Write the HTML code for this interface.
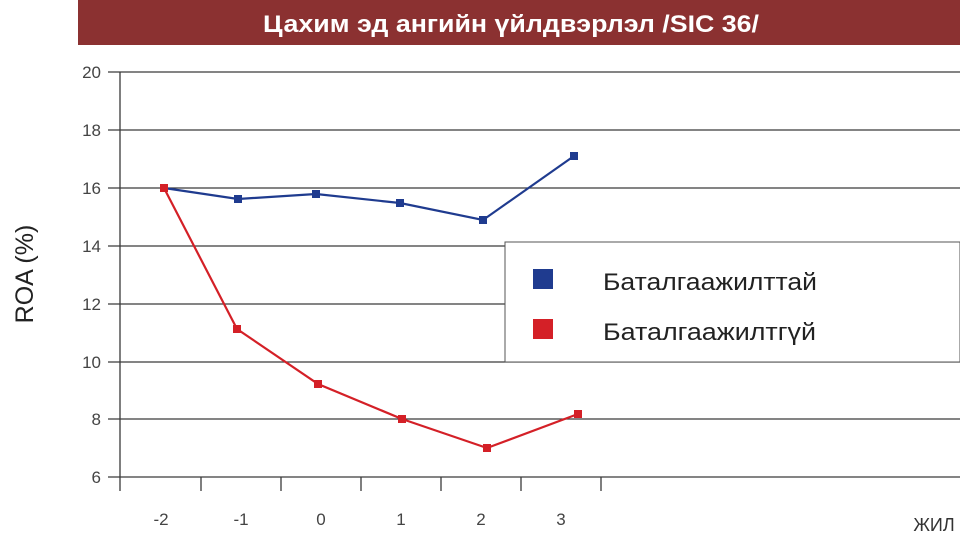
<!DOCTYPE html>
<html><head><meta charset="utf-8"><style>
body{margin:0;background:#fff;width:960px;height:533px;overflow:hidden;font-family:"Liberation Sans",sans-serif}
</style></head><body>
<svg width="960" height="533" xmlns="http://www.w3.org/2000/svg" font-family="Liberation Sans, sans-serif">
<rect x="78" y="0" width="882" height="45" fill="#8b3131"/>
<text x="511" y="32" text-anchor="middle" font-size="24" font-weight="bold" fill="#fff" textLength="496" lengthAdjust="spacingAndGlyphs">Цахим эд ангийн үйлдвэрлэл /SIC 36/</text>
<g stroke="#3a3a3a" stroke-width="1.3">
<line x1="108" y1="72" x2="960" y2="72"/>
<line x1="108" y1="130" x2="960" y2="130"/>
<line x1="108" y1="188" x2="960" y2="188"/>
<line x1="108" y1="246" x2="960" y2="246"/>
<line x1="108" y1="304" x2="960" y2="304"/>
<line x1="108" y1="362" x2="960" y2="362"/>
<line x1="108" y1="419" x2="960" y2="419"/>
<line x1="108" y1="477" x2="960" y2="477"/>
<line x1="120" y1="72" x2="120" y2="491"/>
<line x1="201" y1="477" x2="201" y2="491"/>
<line x1="281" y1="477" x2="281" y2="491"/>
<line x1="361" y1="477" x2="361" y2="491"/>
<line x1="441" y1="477" x2="441" y2="491"/>
<line x1="521" y1="477" x2="521" y2="491"/>
<line x1="601" y1="477" x2="601" y2="491"/>
</g>
<g font-size="17" fill="#444" text-anchor="end">
<text x="101" y="78">20</text><text x="101" y="136">18</text><text x="101" y="194">16</text><text x="101" y="252">14</text>
<text x="101" y="310">12</text><text x="101" y="368">10</text><text x="101" y="425">8</text><text x="101" y="483">6</text>
</g>
<g font-size="17" fill="#444" text-anchor="middle">
<text x="161" y="525">-2</text><text x="241" y="525">-1</text><text x="321" y="525">0</text><text x="401" y="525">1</text><text x="481" y="525">2</text><text x="561" y="525">3</text>
</g>
<text x="934" y="531" font-size="18" fill="#333" text-anchor="middle">ЖИЛ</text>
<text transform="translate(33,274) rotate(-90)" font-size="25" fill="#222" text-anchor="middle">ROA (%)</text>
<polyline fill="none" stroke="#d42027" stroke-width="2.2" points="164,188 237,329 318,384 402,419 487,448 578,414"/>
<polyline fill="none" stroke="#1f3b8f" stroke-width="2.2" points="164,188 238,199 316,194 400,203 483,220 574,156"/>
<g fill="#1f3b8f">
<rect x="234" y="195" width="8" height="8"/><rect x="312" y="190" width="8" height="8"/><rect x="396" y="199" width="8" height="8"/><rect x="479" y="216" width="8" height="8"/><rect x="570" y="152" width="8" height="8"/>
</g>
<g fill="#d42027">
<rect x="160" y="184" width="8" height="8"/><rect x="233" y="325" width="8" height="8"/><rect x="314" y="380" width="8" height="8"/><rect x="398" y="415" width="8" height="8"/><rect x="483" y="444" width="8" height="8"/><rect x="574" y="410" width="8" height="8"/>
</g>
<rect x="505" y="242" width="455" height="120" fill="#fff" stroke="#555" stroke-width="1"/>
<rect x="533" y="269" width="20" height="20" fill="#1f3b8f"/>
<rect x="533" y="319" width="20" height="20" fill="#d42027"/>
<text x="603" y="290" font-size="24" fill="#222" textLength="214" lengthAdjust="spacingAndGlyphs">Баталгаажилттай</text>
<text x="603" y="340" font-size="24" fill="#222" textLength="213" lengthAdjust="spacingAndGlyphs">Баталгаажилтгүй</text>
</svg>
</body></html>
